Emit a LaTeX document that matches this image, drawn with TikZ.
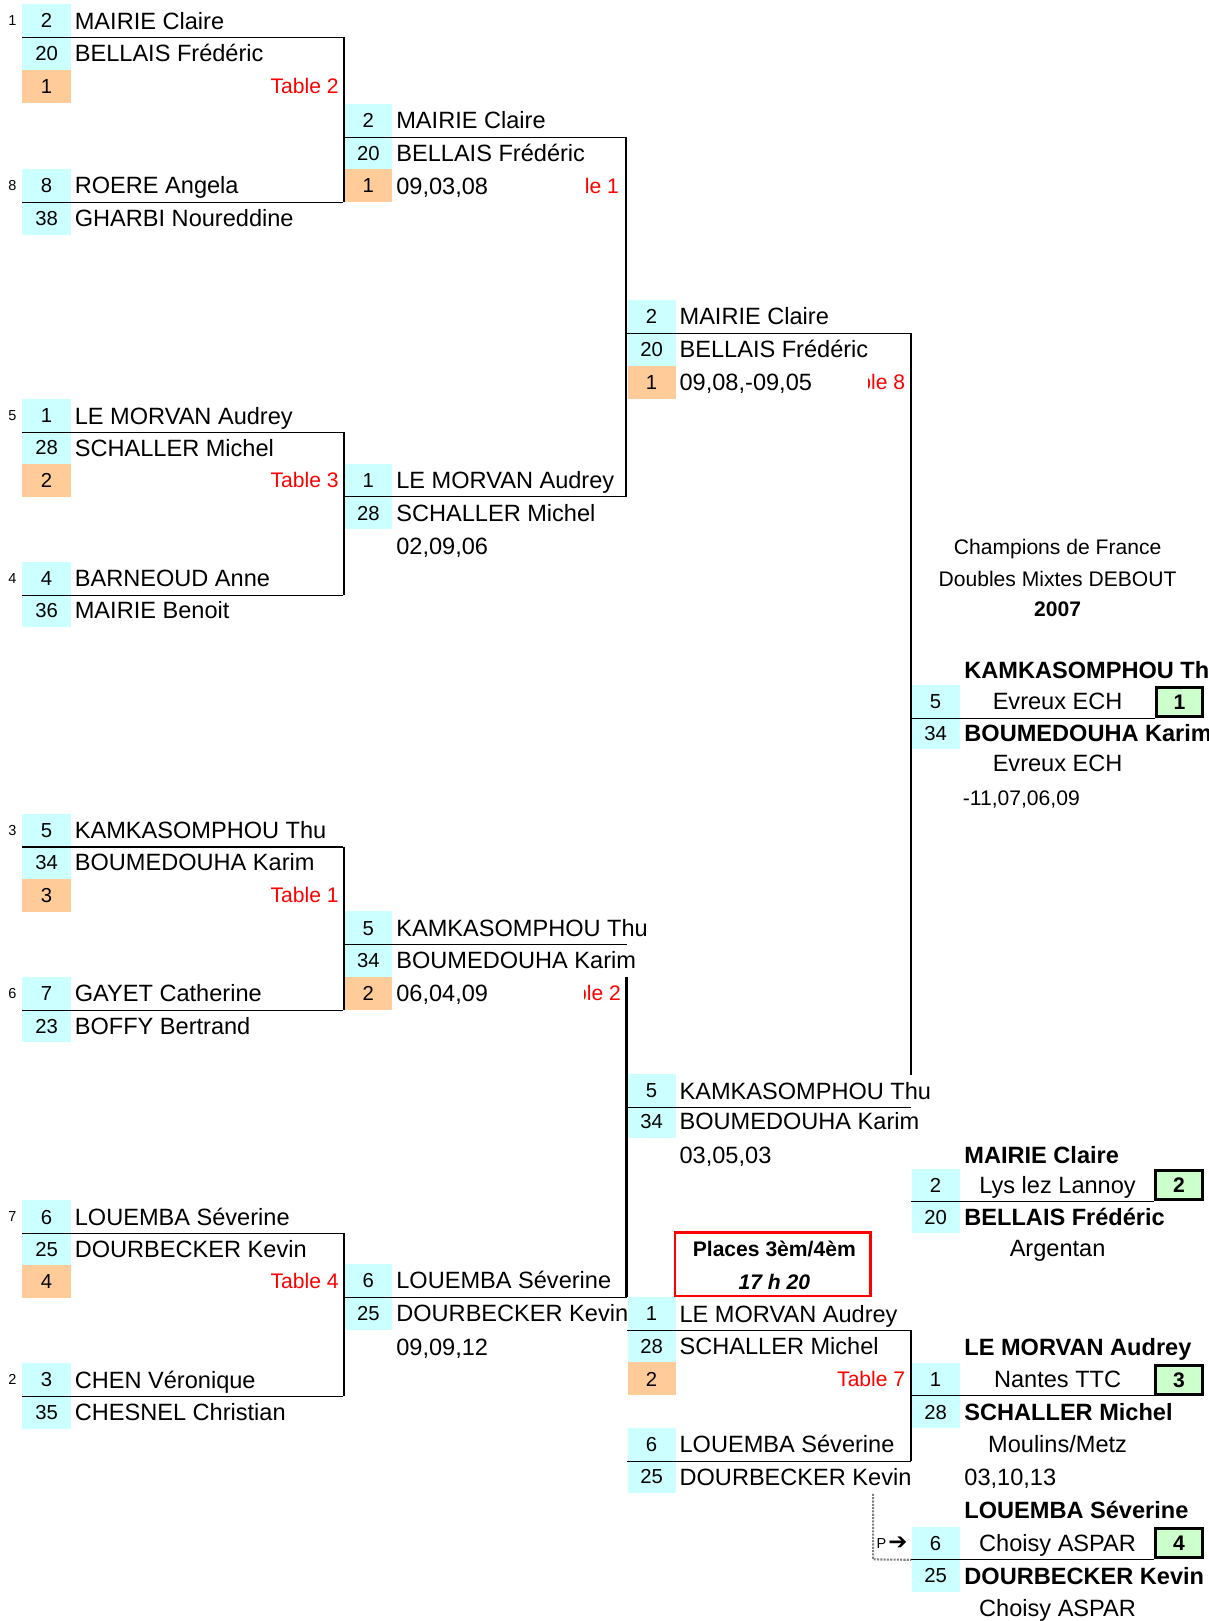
\documentclass[tikz,border=0pt]{standalone}
\usepackage{fontspec}
\setmainfont{Liberation Sans}
\newfontfamily\symb{DejaVu Sans}
\definecolor{cyanpale}{HTML}{CCFFFF}
\definecolor{orangepale}{HTML}{FFCC99}
\definecolor{vertpale}{HTML}{CCFFCC}

\begin{document}
\begin{tikzpicture}[x=0.5pt,y=-0.5pt,font=\fontsize{11.4}{13.7}\selectfont]
\tikzstyle{num} = [fill=cyanpale,minimum width=23.3pt,minimum height=15.9pt,inner sep=0pt,text height=7pt,text depth=0pt,font=\fontsize{9.8}{12}\selectfont]
\tikzstyle{tab} = [num,fill=orangepale]
\tikzstyle{nom} = [anchor=west,inner sep=0pt,text height=8.2pt,text depth=0pt]
\tikzstyle{gras} = [nom,font=\fontsize{11.4}{13.7}\selectfont\bfseries]
\tikzstyle{club} = [inner sep=0pt,text height=8.2pt,text depth=0pt]
\tikzstyle{rouge} = [anchor=east,inner sep=0pt,text height=7.3pt,text depth=0pt,text=red,font=\fontsize{10.2}{12}\selectfont]
\tikzstyle{seed} = [inner sep=0pt,text height=5pt,text depth=0pt,font=\fontsize{7}{8}\selectfont]
\tikzstyle{petit} = [inner sep=0pt,text height=7.3pt,text depth=0pt,font=\fontsize{10.2}{12}\selectfont]
\tikzstyle{place} = [draw=black,line width=1.5pt,fill=vertpale,minimum width=22.5pt,minimum height=14pt,inner sep=0pt,text height=7.3pt,text depth=0pt,font=\fontsize{10.2}{12}\selectfont\bfseries]
\tikzstyle{trait} = [line width=0.5pt]
\tikzstyle{haste} = [line width=1.1pt]

\useasboundingbox (0,0) rectangle (1169,1568);
\clip (0,0) rectangle (1169,1568);

%%%%%% Tour 1
% Poule 1
\node[seed] (s1) at (12,20) {1};
\node[num] (a1) at (45,20) {2};
\node[nom] (na1) at (72,20) {MAIRIE Claire};
\node[num] (a2) at (45,51.7) {20};
\node[nom] (na2) at (72,51.7) {BELLAIS Frédéric};
\node[tab] (a3) at (45,83.6) {1};
\node[rouge] (ta3) at (328,83.6) {Table 2};
\node[seed] (s8) at (12,179.4) {8};
\node[num] (a4) at (45,179.4) {8};
\node[nom] (na4) at (72,179.4) {ROERE Angela};
\node[num] (a5) at (45,211) {38};
\node[nom] (na5) at (72,211) {GHARBI Noureddine};

% Poule 2
\node[seed] (s5) at (12,402) {5};
\node[num] (a6) at (45,402) {1};
\node[nom] (na6) at (72,402) {LE MORVAN Audrey};
\node[num] (a7) at (45,433) {28};
\node[nom] (na7) at (72,433) {SCHALLER Michel};
\node[tab] (a8) at (45,464.5) {2};
\node[rouge] (ta8) at (328,464.5) {Table 3};
\node[seed] (s4) at (12,559.5) {4};
\node[num] (a9) at (45,559.5) {4};
\node[nom] (na9) at (72,559.5) {BARNEOUD Anne};
\node[num] (a10) at (45,590.5) {36};
\node[nom] (na10) at (72,590.5) {MAIRIE Benoit};

% Poule 3
\node[seed] (s3) at (12,803) {3};
\node[num] (a11) at (45,803) {5};
\node[nom] (na11) at (72,803) {KAMKASOMPHOU Thu};
\node[num] (a12) at (45,834) {34};
\node[nom] (na12) at (72,834) {BOUMEDOUHA Karim};
\node[tab] (a13) at (45,866) {3};
\node[rouge] (ta13) at (328,866) {Table 1};
\node[seed] (s6) at (12,961) {6};
\node[num] (a14) at (45,961) {7};
\node[nom] (na14) at (72,961) {GAYET Catherine};
\node[num] (a15) at (45,992.5) {23};
\node[nom] (na15) at (72,992.5) {BOFFY Bertrand};

% Poule 4
\node[seed] (s7) at (12,1177) {7};
\node[num] (a16) at (45,1177) {6};
\node[nom] (na16) at (72,1177) {LOUEMBA Séverine};
\node[num] (a17) at (45,1208) {25};
\node[nom] (na17) at (72,1208) {DOURBECKER Kevin};
\node[tab] (a18) at (45,1239.5) {4};
\node[rouge] (ta18) at (328,1239.5) {Table 4};
\node[seed] (s2) at (12,1334.5) {2};
\node[num] (a19) at (45,1334.5) {3};
\node[nom] (na19) at (72,1334.5) {CHEN Véronique};
\node[num] (a20) at (45,1366) {35};
\node[nom] (na20) at (72,1366) {CHESNEL Christian};

%%%%%% Tour 2
\node[num] (b1) at (356.3,116.3) {2};
\node[nom] (nb1) at (383,116.3) {MAIRIE Claire};
\node[num] (b2) at (356.3,148) {20};
\node[nom] (nb2) at (383,148) {BELLAIS Frédéric};
\node[tab] (b3) at (356.3,179.6) {1};
\node[nom] (nb3) at (383,179.6) {09,03,08};
\begin{scope}
\clip (565,164) rectangle (605,196);
\node[rouge] (tb3) at (599,179.6) {Table 1};
\end{scope}
\node[num] (b4) at (356.3,464.4) {1};
\node[nom] (nb4) at (383,464.4) {LE MORVAN Audrey};
\node[num] (b5) at (356.3,496) {28};
\node[nom] (nb5) at (383,496) {SCHALLER Michel};
\node[nom] (sb5) at (383,528.5) {02,09,06};

\node[num] (b6) at (356.3,897.5) {5};
\node[nom] (nb6) at (383,897.5) {KAMKASOMPHOU Thu};
\node[num] (b7) at (356.3,928.8) {34};
\node[nom] (nb7) at (383,928.8) {BOUMEDOUHA Karim};
\node[tab] (b8) at (356.3,960.7) {2};
\node[nom] (nb8) at (383,960.7) {06,04,09};
\begin{scope}
\clip (565,945) rectangle (605,977);
\node[rouge] (tb8) at (601,960.7) {Table 2};
\end{scope}
\node[num] (b9) at (356.3,1238.6) {6};
\node[nom] (nb9) at (383,1238.6) {LOUEMBA Séverine};
\node[num] (b10) at (356.3,1270.4) {25};
\node[nom] (nb10) at (383,1270.4) {DOURBECKER Kevin};
\node[nom] (sb10) at (383,1303) {09,09,12};

%%%%%% Tour 3
\node[num] (c1) at (630.3,306) {2};
\node[nom] (nc1) at (657,306) {MAIRIE Claire};
\node[num] (c2) at (630.3,337.8) {20};
\node[nom] (nc2) at (657,337.8) {BELLAIS Frédéric};
\node[tab] (c3) at (630.3,369.6) {1};
\node[nom] (nc3) at (657,369.6) {09,08,-09,05};
\begin{scope}
\clip (840,354) rectangle (880,386);
\node[rouge] (tc3) at (876,369.6) {Table 8};
\end{scope}
\node[num] (c4) at (630.3,1055) {5};
\node[nom] (nc4) at (657,1055) {KAMKASOMPHOU Thu};
\node[num] (c5) at (630.3,1084.5) {34};
\node[nom] (nc5) at (657,1084.5) {BOUMEDOUHA Karim};
\node[nom] (sc5) at (657,1117) {03,05,03};

% Places 3/4
\node[num] (c6) at (630.3,1270.6) {1};
\node[nom] (nc6) at (657,1270.6) {LE MORVAN Audrey};
\node[num] (c7) at (630.3,1302.2) {28};
\node[nom] (nc7) at (657,1302.2) {SCHALLER Michel};
\node[tab] (c8) at (630.3,1333.8) {2};
\node[rouge] (tc8) at (876,1333.8) {Table 7};
\node[num] (c9) at (630.3,1397.2) {6};
\node[nom] (nc9) at (657,1397.2) {LOUEMBA Séverine};
\node[num] (c10) at (630.3,1428.4) {25};
\node[nom] (nc10) at (657,1428.4) {DOURBECKER Kevin};

\node[draw=red,line width=1.1pt,minimum width=94.6pt,minimum height=30.9pt,inner sep=0pt] (places) at (747.5,1223) {};
\node[petit,font=\fontsize{10.2}{12}\selectfont\bfseries] (pl1) at (749,1208.5) {Places 3èm/4èm};
\node[petit,font=\fontsize{10.2}{12}\selectfont\bfseries\itshape] (pl2) at (749,1240) {17 h 20};

%%%%%% Podium
\node[petit] (t1) at (1023,529.2) {Champions de France};
\node[petit] (t2) at (1023,560) {Doubles Mixtes DEBOUT};
\node[petit,font=\fontsize{10.2}{12}\selectfont\bfseries] (t3) at (1023,589) {2007};

% 1er
\node[gras] (nd0) at (932.5,648.5) {KAMKASOMPHOU Thu};
\node[num] (d1) at (905,678.5) {5};
\node[club] (cd1) at (1023,678.5) {Evreux ECH};
\node[num] (d2) at (905,709) {34};
\node[gras] (nd2) at (932.5,709) {BOUMEDOUHA Karim};
\node[club] (cd2) at (1023,738.5) {Evreux ECH};
\node[petit,anchor=west] (sd2) at (931,771.5) {-11,07,06,09};
\node[place] (g1) at (1141,678.8) {1};

% 2eme
\node[gras] (nd3) at (932.5,1117) {MAIRIE Claire};
\node[num] (d3) at (905,1146.3) {2};
\node[club] (cd3) at (1023,1146.3) {Lys lez Lannoy};
\node[num] (d4) at (905,1177) {20};
\node[gras] (nd4) at (932.5,1177) {BELLAIS Frédéric};
\node[club] (cd4) at (1023,1207) {Argentan};
\node[place] (g2) at (1140.5,1146.5) {2};

% 3eme
\node[gras] (nd5) at (932.5,1303) {LE MORVAN Audrey};
\node[num] (d5) at (905,1334) {1};
\node[club] (cd5) at (1023,1334) {Nantes TTC};
\node[num] (d6) at (905,1365.6) {28};
\node[gras] (nd6) at (932.5,1365.6) {SCHALLER Michel};
\node[club] (cd6) at (1023,1397) {Moulins/Metz};
\node[nom] (sd6) at (932.5,1428.4) {03,10,13};
\node[place] (g3) at (1140.5,1334.5) {3};

% 4eme
\node[gras] (nd7) at (932.5,1461) {LOUEMBA Séverine};
\node[num] (d7) at (905,1492.5) {6};
\node[club] (cd7) at (1023,1492.5) {Choisy ASPAR};
\node[num] (d8) at (905,1524) {25};
\node[gras] (nd8) at (932.5,1524) {DOURBECKER Kevin};
\node[club] (cd8) at (1023,1555) {Choisy ASPAR};
\node[place] (g4) at (1140.5,1492.5) {4};

\node[seed] (p) at (852.5,1493) {P};
\node[inner sep=0pt,font=\symb\bfseries\fontsize{11}{12}\selectfont] (fl) at (868.5,1493) {➔};

%%%%%% Traits
\draw[trait] (a1.south west) -- ++(310.9,0);
\draw[trait] (a4.south west) -- ++(310.9,0);
\draw[haste] (332.6,35.9) -- (332.6,195.3);
\draw[trait] (a6.south west) -- ++(310.9,0);
\draw[trait] (a9.south west) -- ++(310.9,0);
\draw[haste] (332.6,417.9) -- (332.6,575.4);
\draw[trait] (a11.south west) -- ++(310.9,0);
\draw[trait] (a14.south west) -- ++(310.9,0);
\draw[haste] (332.6,818.9) -- (332.6,976.9);
\draw[trait] (a16.south west) -- ++(310.9,0);
\draw[trait] (a19.south west) -- ++(310.9,0);
\draw[haste] (332.6,1192.9) -- (332.6,1350.4);
%%
\draw[trait] (b1.south west) -- ++(272.3,0);
\draw[trait] (b4.south west) -- ++(272.3,0);
\draw[haste] (605.3,132.2) -- (605.3,480.3);
\draw[trait] (b6.south west) -- ++(274,0);
\draw[trait] (b9.south west) -- ++(274,0);
\draw[haste] (606,944.8) -- (606,1254.5);
%%
\draw[trait] (c1.south west) -- ++(274.5,0);
\draw[haste] (881.5,321.9) -- (881.5,1039.5);
\draw[trait] (c4.south west) -- ++(274.5,0);
\draw[trait] (c6.south west) -- ++(274.5,0);
\draw[trait] (c9.south west) -- ++(274.5,0);
\draw[haste] (881.5,1286.5) -- (881.5,1413.1);
%%
\draw[trait] (d1.south west) -- (g1.west |- d1.south);
\draw[trait] (d3.south west) -- (g2.west |- d3.south);
\draw[trait] (d5.south west) -- (g3.west |- d5.south);
\draw[trait] (d7.south west) -- (g4.west |- d7.south);
\draw[gray,line width=1pt,dash pattern=on 1pt off 0.6pt] (844.5,1445) -- (844.5,1508.4) -- (d7.south west);
\end{tikzpicture}
\end{document}
